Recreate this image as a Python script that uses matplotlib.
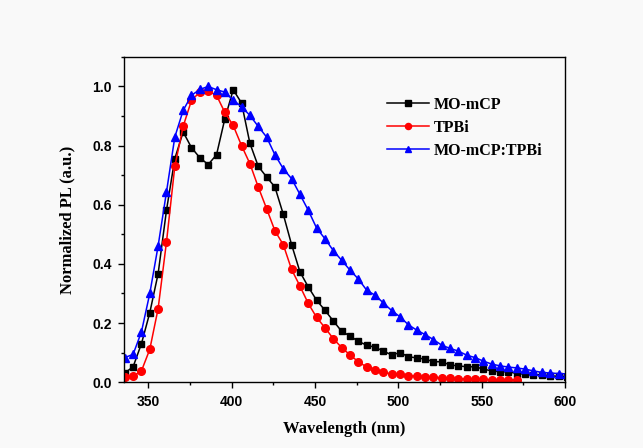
import matplotlib
matplotlib.use("Agg")
import matplotlib.pyplot as plt
from matplotlib.ticker import MultipleLocator

# wavelength grid (nm) and normalized PL
wl = [336, 341, 346, 351, 356, 361, 366, 371, 376, 381, 386, 391, 396, 401,
      406, 411, 416, 421, 426, 431, 436, 441, 446, 451, 456, 461, 466, 471,
      476, 481, 486, 491, 496, 501, 506, 511, 516, 521, 526, 531, 536, 541,
      546, 551, 556, 561, 566, 571, 576, 581, 586, 591, 596, 601]

mo_mcp = [0.031, 0.052, 0.130, 0.235, 0.367, 0.581, 0.756, 0.846, 0.793, 0.759,
          0.736, 0.769, 0.891, 0.989, 0.944, 0.808, 0.730, 0.694, 0.660, 0.568,
          0.465, 0.373, 0.322, 0.277, 0.243, 0.207, 0.172, 0.156, 0.138, 0.125,
          0.118, 0.105, 0.092, 0.100, 0.086, 0.082, 0.078, 0.069, 0.069, 0.058,
          0.055, 0.052, 0.052, 0.044, 0.038, 0.035, 0.035, 0.029, 0.027, 0.025,
          0.025, 0.021, 0.020, 0.019]

tpbi = [0.016, 0.020, 0.038, 0.111, 0.249, 0.474, 0.730, 0.865, 0.953, 0.981,
        0.984, 0.970, 0.912, 0.868, 0.800, 0.739, 0.660, 0.587, 0.512, 0.465,
        0.381, 0.325, 0.266, 0.219, 0.184, 0.147, 0.117, 0.092, 0.069, 0.051,
        0.042, 0.033, 0.028, 0.026, 0.022, 0.020, 0.018, 0.016, 0.015, 0.013,
        0.012, 0.011, 0.010, 0.009, 0.008, 0.008, 0.008, 0.008]

blend = [0.083, 0.094, 0.170, 0.300, 0.461, 0.643, 0.829, 0.919, 0.970, 0.990,
         1.000, 0.989, 0.981, 0.953, 0.932, 0.902, 0.865, 0.829, 0.769, 0.722,
         0.688, 0.635, 0.581, 0.521, 0.485, 0.445, 0.412, 0.379, 0.349, 0.311,
         0.294, 0.268, 0.242, 0.221, 0.194, 0.176, 0.161, 0.144, 0.125, 0.114,
         0.105, 0.091, 0.083, 0.071, 0.061, 0.055, 0.051, 0.048, 0.044, 0.038,
         0.033, 0.031, 0.029, 0.028]

labels = ["MO-mCP", "TPBi", "MO-mCP:TPBi"]

bg = "#f9f9f9"
fig = plt.figure(figsize=(6.43, 4.48), dpi=100, facecolor=bg)
ax = fig.add_axes([0.193, 0.147, 0.686, 0.726], facecolor=bg)

ax.plot(wl, mo_mcp, "k-", marker="s", ms=5, lw=1.1, label=labels[0])
ax.plot(wl[:len(tpbi)], tpbi, "-", color="red", marker="o", ms=5.5, lw=1.1, label=labels[1])
ax.plot(wl, blend, "-", color="blue", marker="^", ms=6, lw=1.1, label=labels[2])

ax.set_xlim(335.6, 600)
ax.set_ylim(0, 1.1)
ax.xaxis.set_major_locator(MultipleLocator(50))
ax.xaxis.set_minor_locator(MultipleLocator(25))
ax.yaxis.set_major_locator(MultipleLocator(0.2))
ax.yaxis.set_minor_locator(MultipleLocator(0.1))
ax.tick_params(which="major", direction="out", length=4, width=1, pad=5)
ax.tick_params(which="minor", direction="out", length=2.5, width=1)
for lab in ax.get_xticklabels() + ax.get_yticklabels():
    lab.set_fontfamily("Liberation Sans")
    lab.set_fontweight("bold")
    lab.set_fontsize(10)
for sp in ax.spines.values():
    sp.set_linewidth(1)

serif = {"family": "Liberation Serif", "weight": "bold", "size": 12}
ax.set_xlabel("Wavelength (nm)", fontdict=serif, labelpad=9)
ax.set_ylabel("Normalized PL (a.u.)", fontdict=serif, labelpad=12)

leg = ax.legend(loc="upper left", bbox_to_anchor=(0.596, 0.878), frameon=False,
                borderaxespad=0, borderpad=0,
                prop={"family": "Liberation Serif", "weight": "bold", "size": 11.5},
                handlelength=2.6, handletextpad=0.3, labelspacing=0.45, markerscale=0.8)

fig.savefig("out.png", dpi=100, facecolor=bg)
